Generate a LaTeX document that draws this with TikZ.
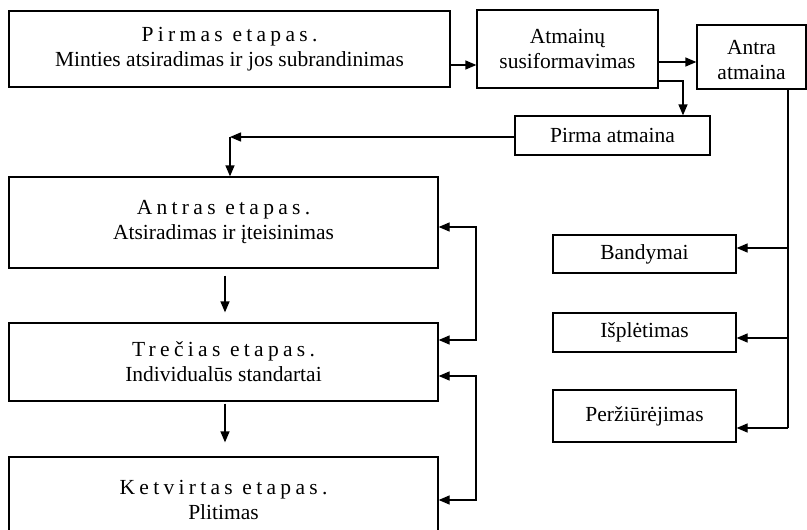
\documentclass[tikz,border=0pt]{standalone}
\usepackage{fontspec}
\setmainfont{Liberation Serif}
\newfontfamily\spacedfont[LetterSpace=20]{Liberation Serif}
\usetikzlibrary{arrows.meta}
\begin{document}
\begin{tikzpicture}[x=1pt,y=-1pt,
  box/.style={draw, line width=1.3pt, rectangle, inner sep=0pt, align=center,
    font=\fontsize{21.5}{25}\selectfont},
  lbl/.style={inner sep=0pt, align=center, font=\fontsize{21.5}{25}\selectfont},
  tip/.tip={Triangle[length=11pt,width=9pt]},
  arr/.style={line width=1.3pt, -tip},
  lnk/.style={line width=1.3pt},
  both/.style={line width=1.3pt, tip-tip}]
\useasboundingbox (0,0) rectangle (807,530);
\fill[white] (0,0) rectangle (807,530);
% nodes
\node[box, minimum width=441pt, minimum height=76pt] (b1) at (229.5,49)
  {{\spacedfont Pirmas etapas.}\\Minties atsiradimas ir jos subrandinimas};
\node[box, minimum width=181pt, minimum height=78pt] (b2) at (567.5,49)
  {Atmainų\\susiformavimas};
\node[box, minimum width=109pt, minimum height=64pt] (b3) at (751.5,57) {};
\node[lbl] (b3t) at (751.5,60) {Antra\\atmaina};
\node[box, minimum width=195pt, minimum height=39pt] (pa) at (612.5,135.5)
  {Pirma atmaina};
\node[box, minimum width=429pt, minimum height=91pt] (b4) at (223.5,222.5)
  {{\spacedfont Antras etapas.}\\Atsiradimas ir įteisinimas};
\node[box, minimum width=429pt, minimum height=78pt] (b5) at (223.5,362)
  {{\spacedfont Trečias etapas.}\\Individualūs standartai};
\node[box, minimum width=429pt, minimum height=86pt] (b6) at (223.5,500)
  {{\spacedfont Ketvirtas etapas.}\\Plitimas};
\node[box, minimum width=183pt, minimum height=38pt] (band) at (644.5,254)
  {Bandymai};
\node[box, minimum width=183pt, minimum height=39pt] (ispl) at (644.5,332.5)
  {Išplėtimas};
\node[box, minimum width=183pt, minimum height=52pt] (perz) at (644.5,416)
  {Peržiūrėjimas};
% coordinates
\coordinate (c1) at (230,137);
\coordinate (r1a) at (476,227);
\coordinate (r1b) at (476,340);
\coordinate (r2a) at (476,376);
\coordinate (r2b) at (476,500);
\coordinate (v0) at (788,89);
\coordinate (v1) at (788,248);
\coordinate (v2) at (788,338);
\coordinate (v3) at (788,428);
% connectors
\draw[arr] (b1.east |- 0,65) -- (b2.west |- 0,65);
\draw[arr] (b2.east |- 0,62) -- (b3.west |- 0,62);
\draw[arr] (b2.east |- 0,81) -| (pa.north -| 683,0);
\draw[arr] (pa.west |- c1) -- (c1);
\draw[arr] (c1) -- (b4.north -| c1);
\draw[arr, shorten <=7pt, shorten >=10pt] (b4.south -| 225,0) -- (b5.north -| 225,0);
\draw[arr, shorten <=2pt, shorten >=14pt] (b5.south -| 225,0) -- (b6.north -| 225,0);
\draw[both] (b4.east |- r1a) -- (r1a) -- (r1b) -- (b5.east |- r1b);
\draw[both] (b5.east |- r2a) -- (r2a) -- (r2b) -- (b6.east |- r2b);
\draw[lnk] (b3.south -| v0) -- (v3);
\draw[arr] (v1) -- (band.east |- v1);
\draw[arr] (v2) -- (ispl.east |- v2);
\draw[arr] (v3) -- (perz.east |- v3);
\end{tikzpicture}
\end{document}
